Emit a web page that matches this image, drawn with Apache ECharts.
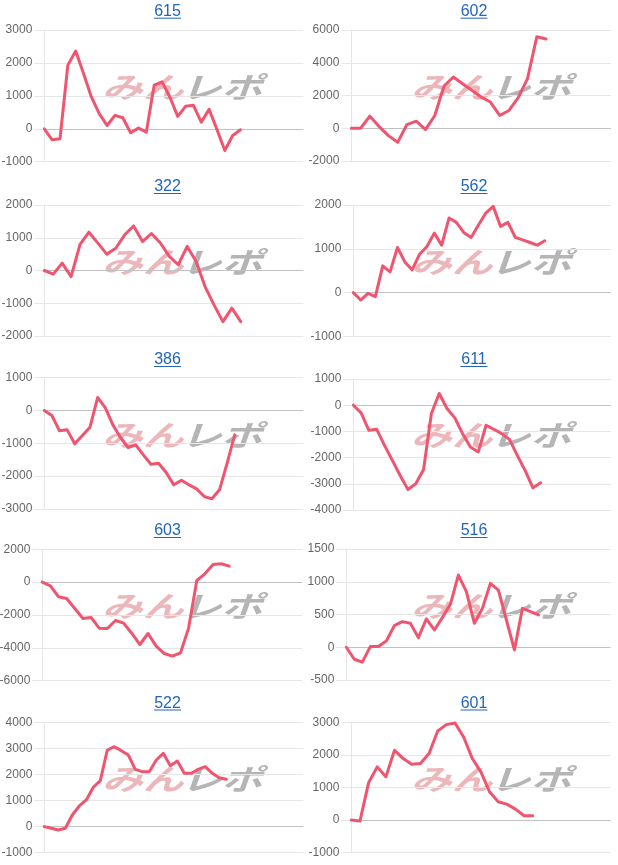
<!DOCTYPE html>
<html>
<head>
<meta charset="utf-8">
<script src="https://cdn.jsdelivr.net/npm/echarts@6/dist/echarts.min.js"></script>
<style>
html,body{margin:0;padding:0;background:#fff;}
#c{width:618px;height:865px;}
</style>
</head>
<body>
<div id="c"></div>
<script>
// ---- data ----
const titles = ['615','602','322','562','386','611','603','516','522','601'];
const s615 = [0,-336,-305,1933,2360,1680,966,458,100,407,336,-122,20,-100,1322,1424,966,376,682,712,203,590,-20,-661,-203,-30];
const s602 = [0,0,740,100,-450,-860,225,430,-80,780,2580,3130,2720,2315,1905,1600,780,1085,1865,3030,5590,5450];
const s322 = [0,-110,225,-185,800,1170,835,500,680,1090,1360,885,1130,840,430,175,735,275,-490,-1050,-1560,-1150,-1560];
const s562 = [0,-168,-15,-92,611,473,1031,702,519,878,1053,1359,1084,1702,1603,1374,1260,1542,1817,1969,1511,1603,1260,1206,1145,1084,1183];
const s386 = [0,-152,-619,-589,-1015,-761,-508,396,91,-437,-822,-1127,-1046,-1350,-1635,-1604,-1888,-2264,-2122,-2264,-2386,-2619,-2690,-2416,-1604,-741];
const s611 = [0,-294,-958,-920,-1533,-2107,-2682,-3218,-3001,-2452,-319,447,-128,-485,-1086,-1596,-1788,-766,-920,-1086,-1303,-1916,-2490,-3155,-2963];
const s603 = [0,-223,-893,-995,-1604,-2213,-2152,-2802,-2822,-2335,-2497,-3107,-3797,-3127,-3898,-4345,-4508,-4305,-2782,102,508,1076,1117,975];
const s516 = [0,-183,-228,10,10,96,330,391,366,147,432,264,452,655,1102,848,366,594,975,873,416,-41,594,543,493];
const s522 = [0,-64,-128,-64,447,792,1022,1507,1763,2937,3065,2912,2746,2197,2107,2107,2554,2810,2337,2516,2043,2043,2197,2299,2043,1877,1814];
const s601 = [0,-30,1143,1633,1327,2143,1888,1714,1735,2041,2735,2929,2980,2551,1888,1480,867,561,490,337,133,133];
const seriesValues = [s615,s602,s322,s562,s386,s611,s603,s516,s522,s601];
const yMin  = [-1000,-2000,-2000,-1000,-3000,-4000,-6000,-500,-1000,-1000];
const yMax  = [3000,6000,2000,2000,1000,1000,2000,1500,4000,3000];
const yStep = [1000,2000,1000,1000,1000,1000,2000,500,1000,1000];
const xSpan = [33,28,29,35,34,33,32,33,37,30];

// ---- layout ----
const boxes = [
  [44.3,30,303.3,161.7],
  [351.3,30,611,161],
  [44.3,205,303.3,336],
  [353.3,205,611,336.5],
  [44.3,377.7,303.3,509],
  [353.3,379,611,510],
  [42.3,549.3,302.5,680.7],
  [346.3,549,610.5,680],
  [44.3,722.3,303.3,852.7],
  [351.3,722.3,610.5,852.7]
];
const titleY = [11.7,187,360,531,703.5];
const colX = [0,309];
const titleCX = [167.5,474];
const LINE = '#f0546f';
const TITLE = '#2266b8';
const GRID = '#e6e6e6';
const ZERO = '#c2c2c2';

const grids=[],xAxes=[],yAxes=[],series=[],graphic=[];
for(let i=0;i<10;i++){
  const b=boxes[i];
  grids.push({left:b[0],top:b[1],width:b[2]-b[0],height:b[3]-b[1],containLabel:false,outerBoundsMode:'none'});
  xAxes.push({type:'value',gridIndex:i,min:0,max:xSpan[i],show:false});
  const cols=[];
  for(let v=yMin[i]; v<=yMax[i]; v+=yStep[i]) cols.push(v===0?ZERO:GRID);
  yAxes.push({type:'value',gridIndex:i,min:yMin[i],max:yMax[i],interval:yStep[i],
    axisLine:{show:true,lineStyle:{color:GRID,width:1}},
    axisTick:{show:true,length:10,lineStyle:{color:GRID}},
    axisLabel:{margin:12,color:'#666',fontSize:12,fontFamily:'Liberation Sans, Arial, sans-serif',formatter:(v)=>String(v)},
    splitLine:{show:true,lineStyle:{color:cols,width:1}}
  });
  series.push({type:'line',xAxisIndex:i,yAxisIndex:i,symbol:'none',silent:true,z:5,
    data:seriesValues[i].map((v,k)=>[k,v]),
    lineStyle:{width:3,color:LINE,join:'round',cap:'round'}});
  const col=i%2,row=Math.floor(i/2);
  const tx=titleCX[col], ty=titleY[row];
  graphic.push({type:'text',x:tx,y:ty,z:10,style:{text:titles[i],fill:TITLE,font:'16px "Liberation Sans", Arial, sans-serif',textAlign:'center',textVerticalAlign:'middle'}});
  graphic.push({type:'line',z:10,shape:{x1:tx-13.5,y1:ty+6.5,x2:tx+13.5,y2:ty+6.5},style:{stroke:TITLE,lineWidth:1}});
  const wx=colX[col]+102, wy=ty+61;
  graphic.push({type:'text',x:wx,y:wy,scaleX:1.2,scaleY:0.85,z:-5,style:{text:'みん',fill:'#ecb7ba',font:'italic bold 34px "Noto Sans CJK JP", sans-serif',textAlign:'left',textVerticalAlign:'top'}});
  graphic.push({type:'text',x:wx+79,y:wy,scaleX:1.2,scaleY:0.85,z:-5,style:{text:'レポ',fill:'#b5b5b5',font:'italic bold 34px "Noto Sans CJK JP", sans-serif',textAlign:'left',textVerticalAlign:'top'}});
}

const chart = echarts.init(document.getElementById('c'),null,{renderer:'canvas'});
chart.setOption({animation:false,grid:grids,xAxis:xAxes,yAxis:yAxes,series:series,graphic:graphic});
</script>
</body>
</html>
